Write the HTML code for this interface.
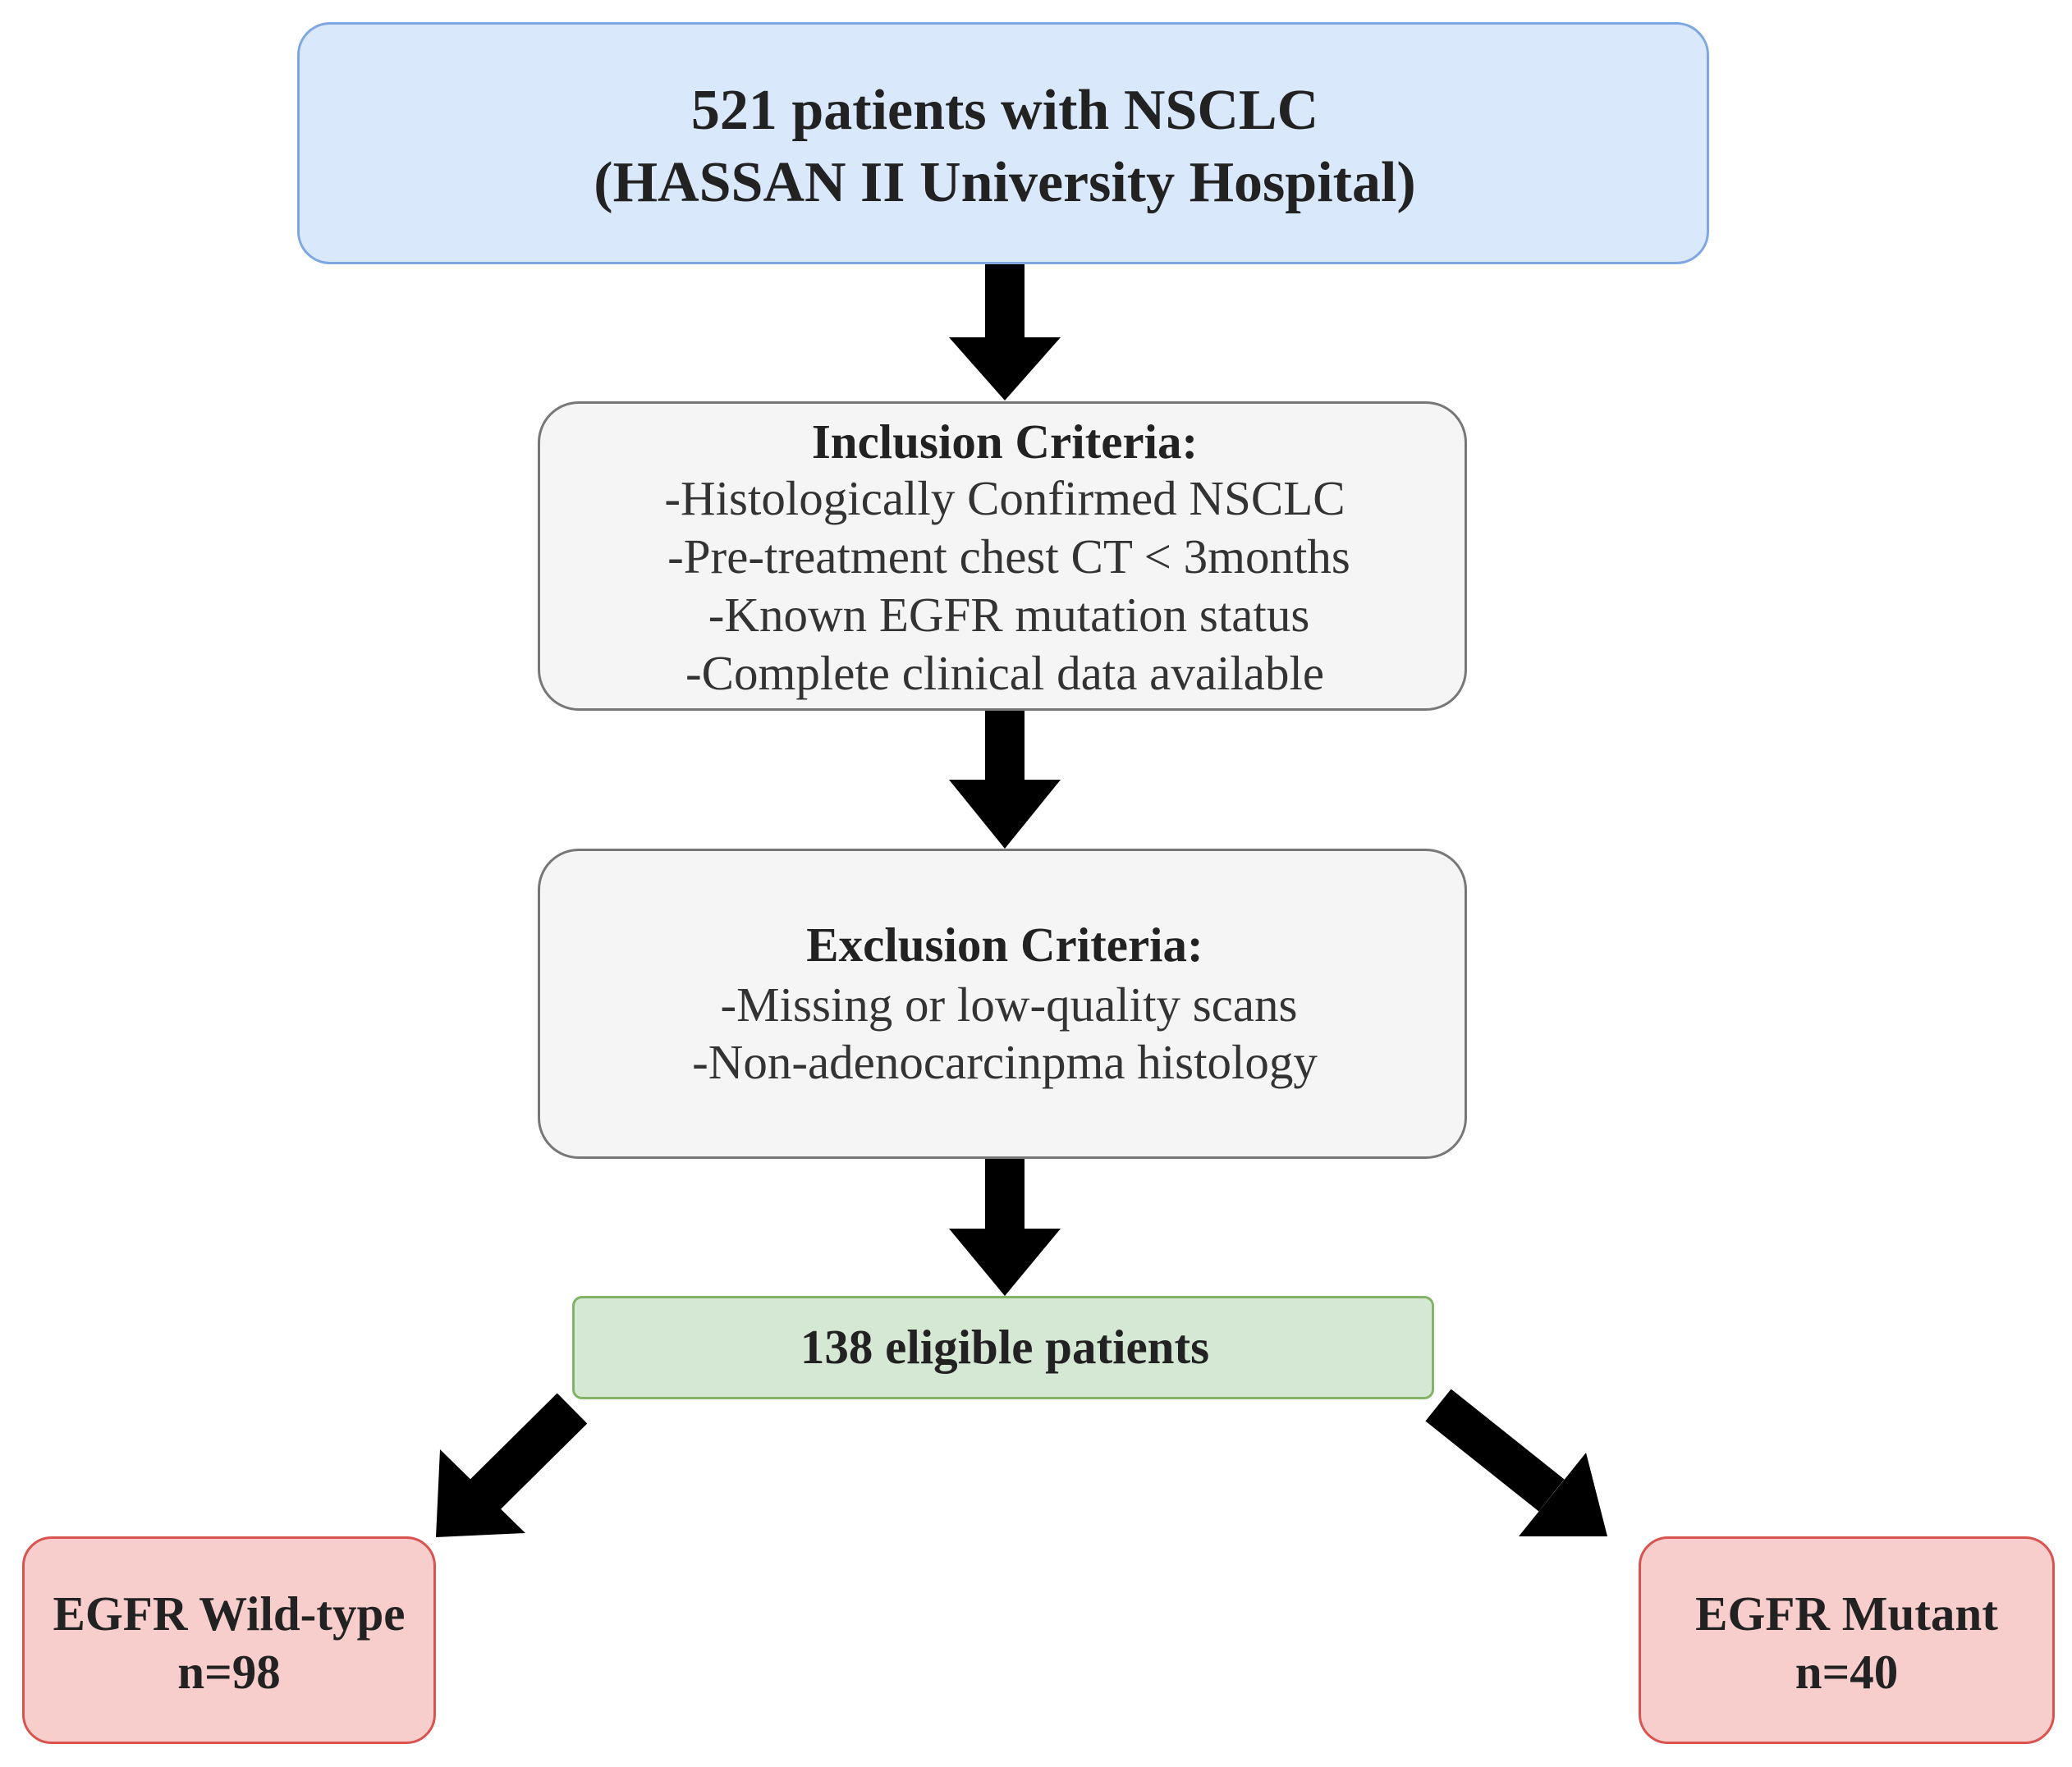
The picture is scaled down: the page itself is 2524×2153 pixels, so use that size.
<!DOCTYPE html>
<html><head><meta charset="utf-8"><style>
html,body{margin:0;padding:0;background:#fff;}
body{width:2524px;height:2153px;position:relative;overflow:hidden;font-family:"Liberation Serif",serif;color:#222;}
.b{position:absolute;box-sizing:border-box;text-align:center;}
.t{position:absolute;left:0;right:0;text-align:center;white-space:nowrap;line-height:1;}
</style></head><body>
<svg width="2524" height="2153" style="position:absolute;left:0;top:0">
<g fill="#000">
<rect x="1200" y="320" width="48" height="93"/><polygon points="1156,411 1292,411 1224,488"/>
<rect x="1200" y="864" width="48" height="88"/><polygon points="1156,950 1292,950 1224,1034"/>
<rect x="1200" y="1410" width="48" height="89"/><polygon points="1156,1497 1292,1497 1224,1579"/>
</g>
<line x1="697" y1="1716" x2="590" y2="1822" stroke="#000" stroke-width="52"/>
<polygon points="536,1766 640,1868 531,1873" fill="#000"/>
<line x1="1752" y1="1712" x2="1890" y2="1822" stroke="#000" stroke-width="50"/>
<polygon points="1850,1872 1958,1872 1932,1770" fill="#000"/>
</svg>
<div class="b" style="left:362px;top:27px;width:1720px;height:295px;background:#dae8fc;border:3px solid #7ea6e0;border-radius:40px;"></div>
<div class="t" style="top:100px;font-size:70px;font-weight:bold;width:2448px;">521 patients with NSCLC</div>
<div class="t" style="top:188px;font-size:70px;font-weight:bold;width:2448px;">(HASSAN II University Hospital)</div>

<div class="b" style="left:655px;top:489px;width:1132px;height:377px;background:#f5f5f5;border:3px solid #777;border-radius:50px;"></div>
<div class="t" style="top:509px;font-size:59px;font-weight:bold;width:2448px;">Inclusion Criteria:</div>
<div class="t" style="top:578px;font-size:59px;width:2448px;color:#333;">-Histologically Confirmed NSCLC</div>
<div class="t" style="top:649px;font-size:59px;width:2458px;color:#333;">-Pre-treatment chest CT &lt; 3months</div>
<div class="t" style="top:720px;font-size:59px;width:2458px;color:#333;">-Known EGFR mutation status</div>
<div class="t" style="top:791px;font-size:59px;width:2448px;color:#333;">-Complete clinical data available</div>

<div class="b" style="left:655px;top:1034px;width:1132px;height:378px;background:#f5f5f5;border:3px solid #777;border-radius:50px;"></div>
<div class="t" style="top:1122px;font-size:59px;font-weight:bold;width:2448px;">Exclusion Criteria:</div>
<div class="t" style="top:1195px;font-size:59px;width:2458px;color:#333;">-Missing or low-quality scans</div>
<div class="t" style="top:1265px;font-size:59px;width:2448px;color:#333;">-Non-adenocarcinpma histology</div>

<div class="b" style="left:697px;top:1579px;width:1050px;height:126px;background:#d5e8d4;border:3px solid #82b366;border-radius:12px;"></div>
<div class="t" style="top:1612px;font-size:59px;font-weight:bold;width:2448px;">138 eligible patients</div>

<div class="b" style="left:27px;top:1872px;width:504px;height:253px;background:#f8cecc;border:3px solid #d9534f;border-radius:36px;"></div>
<div class="t" style="left:27px;width:504px;top:1937px;font-size:59px;font-weight:bold;">EGFR Wild-type</div>
<div class="t" style="left:27px;width:504px;top:2008px;font-size:59px;font-weight:bold;">n=98</div>

<div class="b" style="left:1996px;top:1872px;width:507px;height:253px;background:#f8cecc;border:3px solid #d9534f;border-radius:36px;"></div>
<div class="t" style="left:1996px;width:507px;top:1937px;font-size:59px;font-weight:bold;">EGFR Mutant</div>
<div class="t" style="left:1996px;width:507px;top:2008px;font-size:59px;font-weight:bold;">n=40</div>
</body></html>
